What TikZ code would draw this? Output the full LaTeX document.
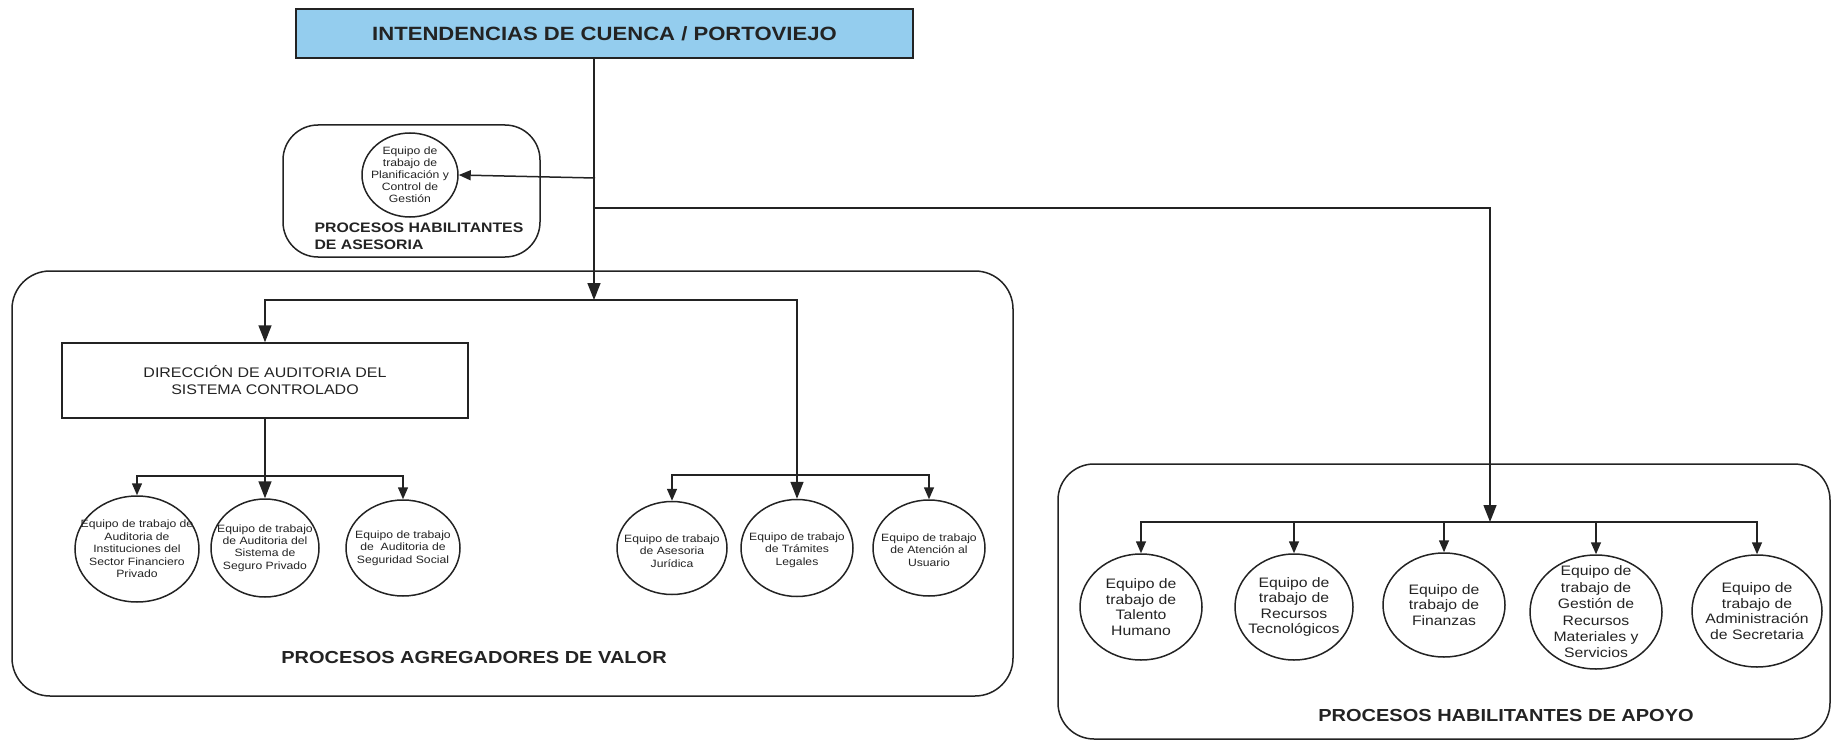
\documentclass[tikz,border=0pt]{standalone}
\usepackage{fontspec}
\setmainfont{Liberation Sans}[FakeStretch=1.15]
\usetikzlibrary{arrows.meta,shapes.geometric}
\definecolor{topblue}{RGB}{148,205,238}
\definecolor{ink}{RGB}{35,35,35}
\begin{document}
\begin{tikzpicture}[x=1pt,y=-1pt,
  conn/.style={line width=1.5pt, draw=ink},
  arr/.style={conn, -{Triangle[length=12pt,width=10pt]}},
  bigarr/.style={conn, -{Triangle[length=17pt,width=13pt]}},
  groupbox/.style={draw=ink, line width=1.5pt, inner sep=0pt},
  oval/.style={ellipse, draw=ink, line width=1.5pt, inner sep=0pt},
  ovaltxtS/.style={align=center, inner sep=0pt, text=ink, font=\fontsize{10.6}{12.4}\selectfont},
  ovaltxtP/.style={align=center, inner sep=0pt, text=ink, font=\fontsize{10.6}{12}\selectfont},
  ovaltxtL/.style={align=center, inner sep=0pt, text=ink, font=\fontsize{13.7}{15.6}\selectfont},
  grouplabel/.style={text=ink, font=\bfseries\fontsize{17.4}{20}\selectfont},
]
\useasboundingbox (0,0) rectangle (1834,741);

% group containers
\node[groupbox, rounded corners=35pt, minimum width=257pt, minimum height=132pt] (ases) at (411.5,191) {};
\node[groupbox, rounded corners=38pt, minimum width=1001pt, minimum height=425pt] (agr) at (512.5,483.5) {};
\node[groupbox, rounded corners=36pt, minimum width=772pt, minimum height=275pt] (apo) at (1444,601.5) {};

% top
\node[draw=ink, fill=topblue, line width=1.6pt, minimum width=617pt, minimum height=49pt, text=ink,
      font=\bfseries\fontsize{19.2}{22}\selectfont] (top) at (604.5,33.5) {INTENDENCIAS DE CUENCA / PORTOVIEJO};

% asesoria
\node[oval, minimum width=96pt, minimum height=84pt] (plan) at (410,175) {};
\node[ovaltxtP] (plant) at (plan) {Equipo de\\trabajo de\\Planificación y\\Control de\\Gestión};
\node[anchor=west, align=left, text=ink, font=\bfseries\fontsize{13.75}{17}\selectfont] (asesl) at (311,236.5) {PROCESOS HABILITANTES\\DE ASESORIA};

% agregadores
\node[draw=ink, line width=1.5pt, minimum width=406pt, minimum height=75pt, align=center, text=ink,
      font=\fontsize{13.9}{17}\selectfont] (dir) at (265,380.5) {DIRECCIÓN DE AUDITORIA DEL\\SISTEMA CONTROLADO};

\node[oval, minimum width=124pt, minimum height=106pt] (a1) at (137,549) {};
\node[ovaltxtS] (a1t) at (a1) {Equipo de trabajo de\\Auditoria de\\Instituciones del\\Sector Financiero\\Privado};
\node[oval, minimum width=108pt, minimum height=98pt] (a2) at (265,548) {};
\node[ovaltxtS] (a2t) at (a2) {Equipo de trabajo\\de Auditoria del\\Sistema de\\Seguro Privado};
\node[oval, minimum width=114pt, minimum height=96pt] (a3) at (403,548) {};
\node[ovaltxtS] (a3t) at (a3) {Equipo de trabajo\\de\ \ Auditoria de\\Seguridad Social};

\node[oval, minimum width=110pt, minimum height=93pt] (b1) at (672,548) {};
\node[ovaltxtS] (b1t) at ([yshift=-3pt]b1.center) {Equipo de trabajo\\de Asesoria\\Jurídica};
\node[oval, minimum width=112pt, minimum height=97pt] (b2) at (797,548) {};
\node[ovaltxtS] (b2t) at ([yshift=-2pt]b2.center) {Equipo de trabajo\\de Trámites\\Legales};
\node[oval, minimum width=112pt, minimum height=96pt] (b3) at (929,548) {};
\node[ovaltxtS] (b3t) at ([yshift=-2pt]b3.center) {Equipo de trabajo\\de Atención al\\Usuario};

\node[grouplabel] (agrl) at (474,658) {PROCESOS AGREGADORES DE VALOR};

% apoyo
\node[oval, minimum width=122pt, minimum height=106pt] (c1) at (1141,607) {};
\node[ovaltxtL] (c1t) at (c1) {Equipo de\\trabajo de\\Talento\\Humano};
\node[oval, minimum width=118pt, minimum height=106pt] (c2) at (1294,607) {};
\node[ovaltxtL] (c2t) at (c2) {Equipo de\\trabajo de\\Recursos\\Tecnológicos};
\node[oval, minimum width=122pt, minimum height=104pt] (c3) at (1444,605) {};
\node[ovaltxtL] (c3t) at (c3) {Equipo de\\trabajo de\\Finanzas};
\node[oval, minimum width=132pt, minimum height=114pt] (c4) at (1596,612) {};
\node[ovaltxtL, font=\fontsize{13.7}{16.4}\selectfont] (c4t) at (c4) {Equipo de\\trabajo de\\Gestión de\\Recursos\\Materiales y\\Servicios};
\node[oval, minimum width=130pt, minimum height=112pt] (c5) at (1757,611) {};
\node[ovaltxtL] (c5t) at (c5) {Equipo de\\trabajo de\\Administración\\de Secretaria};

\node[grouplabel] (apol) at (1506,716) {PROCESOS HABILITANTES DE APOYO};

% junction coordinates
\coordinate (agj) at (594,300);
\coordinate (asj) at (595,178);
\coordinate (apj) at (594,208);
\coordinate (apbar) at (1490,522);
\coordinate (lb) at (265,476);
\coordinate (rb) at (797,475);

% connectors
\draw[bigarr] (top.south -| agj) -- (agj);
\draw[arr] (asj) -- (plan.east);
\draw[bigarr] (apj) -| (apbar);
\draw[bigarr] (agj) -| (dir.north);
\draw[bigarr] (agj) -| (b2.north);
\draw[bigarr] (dir.south) -- (a2.north);
\draw[arr] (lb) -| (a1.north);
\draw[arr] (lb) -| (a3.north);
\draw[arr] (rb) -| (b1.north);
\draw[arr] (rb) -| (b3.north);
\draw[arr] (apbar) -| (c1.north);
\draw[arr] (apbar) -| (c2.north);
\draw[arr] (apbar) -| (c3.north);
\draw[arr] (apbar) -| (c4.north);
\draw[arr] (apbar) -| (c5.north);
\end{tikzpicture}
\end{document}
